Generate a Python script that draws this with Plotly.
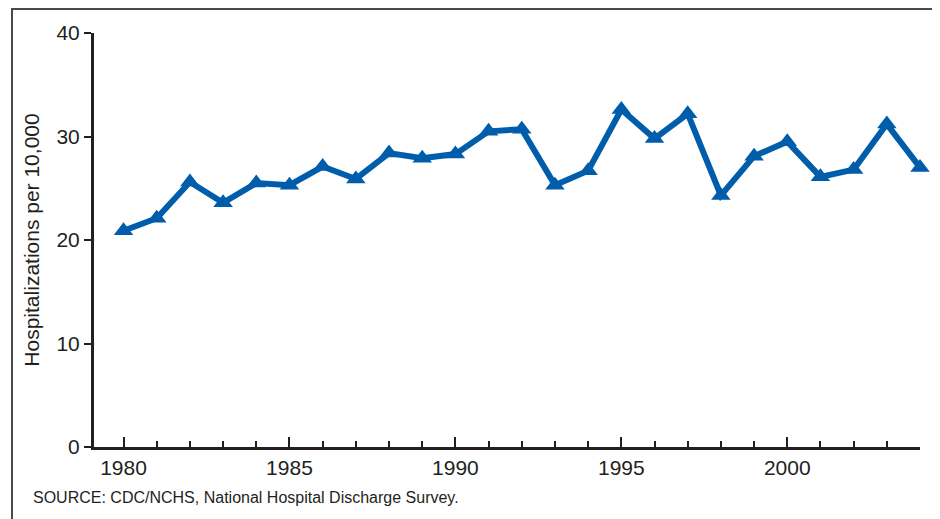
import plotly.graph_objects as go

years = list(range(1980, 2005))
rates = [20.9, 22.1, 25.6, 23.6, 25.5, 25.3, 27.1, 25.9, 28.4, 27.9, 28.3, 30.5, 30.7,
         25.3, 26.7, 32.6, 29.8, 32.2, 24.3, 28.1, 29.5, 26.1, 26.8, 31.2, 27.0]

y_label = "Hospitalizations per 10,000"
source = "SOURCE: CDC/NCHS, National Hospital Discharge Survey."

dark = "#231f20"
blue = "#005dab"

# page body has an 8px default margin; compensate so the figure fills the window
OFF = 8
W, H = 940 - OFF, 519 - OFF
# absolute page positions of the plot area
ax_left, ax_right, ax_top, ax_bottom = 94, 920, 33, 447
L = ax_left - OFF
R = 940 - ax_right
T = ax_top - OFF
B = 519 - ax_bottom
pw, ph = ax_right - ax_left, ax_bottom - ax_top

def px(x):
    return (x - ax_left) / pw

def py(y):
    return (ax_bottom - y) / ph

fig = go.Figure()
fig.add_trace(go.Scatter(
    x=years, y=rates, mode="lines+markers",
    line=dict(color=blue, width=6),
    marker=dict(symbol="triangle-up", size=17, color=blue),
    showlegend=False, hoverinfo="x+y", cliponaxis=False,
))

fig.update_layout(
    width=W, height=H,
    margin=dict(l=L, r=R, t=T, b=B),
    paper_bgcolor="white", plot_bgcolor="white",
    font=dict(family="Liberation Sans, Arial, sans-serif", color=dark),
    xaxis=dict(
        range=[1979.11, 2004], tickmode="linear", tick0=1980, dtick=5,
        ticks="inside", ticklen=10, tickwidth=2, tickcolor=dark,
        showline=True, linewidth=3, linecolor=dark, showgrid=False, zeroline=False,
        tickfont=dict(size=21, color=dark),
        minor=dict(dtick=1, tick0=1980, ticks="inside", ticklen=6, tickwidth=2,
                   tickcolor=dark, showgrid=False),
    ),
    yaxis=dict(
        range=[0, 40], tickmode="linear", tick0=0, dtick=10,
        ticks="outside", ticklen=7, tickwidth=2, tickcolor=dark,
        showline=True, linewidth=3, linecolor=dark, showgrid=False, zeroline=False,
        tickfont=dict(size=21, color=dark),
        title=dict(text=y_label, font=dict(size=21, color=dark), standoff=12),
    ),
    shapes=[dict(
        type="rect", xref="paper", yref="paper",
        x0=px(12), x1=px(935), y0=py(530), y1=py(9),
        line=dict(color="#4a4a4a", width=2), fillcolor="rgba(0,0,0,0)", layer="below",
    )],
    annotations=[dict(
        text=source, xref="paper", yref="paper",
        x=px(31), y=py(497), xanchor="left", yanchor="middle",
        showarrow=False, font=dict(size=16, color=dark),
    )],
)

fig.write_html("out.html")
